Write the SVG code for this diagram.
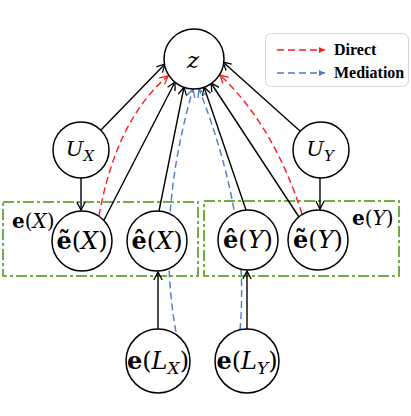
<svg xmlns="http://www.w3.org/2000/svg" width="411" height="416" viewBox="0 0 411 416">
<style>
.node{fill:#fff;stroke:#000;stroke-width:1.5}
.blk{fill:none;stroke:#000;stroke-width:1.4;marker-end:url(#ab)}
.red{fill:none;stroke:#ff1a1a;stroke-width:1.4;stroke-dasharray:7 4;marker-end:url(#ar)}
.blu{fill:none;stroke:#4a7bd0;stroke-width:1.4;stroke-dasharray:7 4;marker-end:url(#au)}
.box{fill:none;stroke:#70ad47;stroke-width:2;stroke-dasharray:11 3 3 3}
.m{font-family:"DejaVu Serif","Liberation Serif",serif;fill:#000}
.b{font-weight:bold}
.i{font-style:italic}
.leg{font-family:"Liberation Serif","Times New Roman",serif;font-weight:bold;font-size:16px;fill:#000}
</style>
<defs>
<marker id="ab" markerWidth="12" markerHeight="12" refX="10" refY="6" orient="auto" markerUnits="userSpaceOnUse"><path d="M2,1.8 L10,6 L2,10.2" fill="none" stroke="#000" stroke-width="1.3"/></marker>
<marker id="ar" markerWidth="12" markerHeight="12" refX="10" refY="6" orient="auto" markerUnits="userSpaceOnUse"><path d="M2,1.8 L10,6 L2,10.2" fill="none" stroke="#ff1a1a" stroke-width="1.3"/></marker>
<marker id="au" markerWidth="12" markerHeight="12" refX="10" refY="6" orient="auto" markerUnits="userSpaceOnUse"><path d="M2,1.8 L10,6 L2,10.2" fill="none" stroke="#4a7bd0" stroke-width="1.3"/></marker>
<marker id="lr" markerWidth="8" markerHeight="8" refX="6" refY="3" orient="auto" markerUnits="userSpaceOnUse"><path d="M0,0 L6,3 L0,6 z" fill="#ff1a1a"/></marker>
<marker id="lu" markerWidth="8" markerHeight="8" refX="6" refY="3" orient="auto" markerUnits="userSpaceOnUse"><path d="M0,0 L6,3 L0,6 z" fill="#4a7bd0"/></marker>
</defs>

<g id="groups">
<rect class="box" x="3" y="202" width="195" height="74"/>
<rect class="box" x="204" y="201" width="195" height="75"/>
<text class="m" x="12" y="228" font-size="20"><tspan class="b">e</tspan>(<tspan class="i">X</tspan>)</text>
<text class="m" x="352" y="225" font-size="20"><tspan class="b">e</tspan>(<tspan class="i">Y</tspan>)</text>
</g>

<g id="connectors">
<line class="blk" x1="81" y1="178" x2="81" y2="210"/>
<line class="blk" x1="320" y1="178" x2="320" y2="209"/>
<line class="blk" x1="158" y1="329" x2="158" y2="272"/>
<line class="blk" x1="247" y1="329" x2="247" y2="271"/>
<line class="blk" x1="101" y1="130" x2="165" y2="64"/>
<line class="blk" x1="104" y1="220" x2="175" y2="82"/>
<line class="blk" x1="159" y1="211" x2="184" y2="87"/>
<line class="blk" x1="246" y1="210" x2="204" y2="87"/>
<line class="blk" x1="299" y1="217" x2="211" y2="83"/>
<line class="blk" x1="300" y1="131" x2="223" y2="62"/>
<path class="red" d="M99,216 Q116,120 168,76"/>
<path class="red" d="M302,214 Q274,126 220,75"/>
<path class="blu" d="M176,332 Q155.5,219 193,89"/>
<path class="blu" d="M240,330 Q250,219 199,89"/>
</g>

<g id="node-z"><circle class="node" cx="194" cy="59" r="30"/><text class="m i" x="193" y="68" font-size="23" text-anchor="middle">z</text></g>
<g id="node-ux"><circle class="node" cx="81" cy="150" r="28"/><text class="m" x="80" y="156" font-size="21" text-anchor="middle"><tspan class="i">U</tspan><tspan class="i" font-size="15" dy="5">X</tspan></text></g>
<g id="node-uy"><circle class="node" cx="321" cy="150" r="28"/><text class="m" x="320" y="156" font-size="21" text-anchor="middle"><tspan class="i">U</tspan><tspan class="i" font-size="15" dy="5">Y</tspan></text></g>
<g id="node-tx"><circle class="node" cx="82" cy="241" r="30"/><text class="m" x="82" y="249" font-size="24" text-anchor="middle"><tspan class="b">ẽ</tspan>(<tspan class="i">X</tspan>)</text></g>
<g id="node-hx"><circle class="node" cx="157" cy="241" r="30"/><text class="m" x="157" y="249" font-size="24" text-anchor="middle"><tspan class="b">ê</tspan>(<tspan class="i">X</tspan>)</text></g>
<g id="node-hy"><circle class="node" cx="248" cy="240" r="30"/><text class="m" x="248" y="248" font-size="24" text-anchor="middle"><tspan class="b">ê</tspan>(<tspan class="i">Y</tspan>)</text></g>
<g id="node-ty"><circle class="node" cx="318" cy="240" r="30"/><text class="m" x="318" y="248" font-size="24" text-anchor="middle"><tspan class="b">ẽ</tspan>(<tspan class="i">Y</tspan>)</text></g>
<g id="node-lx"><circle class="node" cx="158" cy="361" r="32"/><text class="m" x="158" y="369" font-size="24" text-anchor="middle"><tspan class="b">e</tspan>(<tspan class="i">L</tspan><tspan class="i" font-size="17" dy="5">X</tspan><tspan dy="-5">)</tspan></text></g>
<g id="node-ly"><circle class="node" cx="247" cy="361" r="32"/><text class="m" x="247" y="369" font-size="24" text-anchor="middle"><tspan class="b">e</tspan>(<tspan class="i">L</tspan><tspan class="i" font-size="17" dy="5">Y</tspan><tspan dy="-5">)</tspan></text></g>

<g id="legend">
<rect x="265.5" y="33.5" width="143" height="53" rx="6" fill="#fff" stroke="#d4d4d4" stroke-width="1"/>
<line x1="277" y1="50" x2="325" y2="50" stroke="#ff1a1a" stroke-width="1.4" stroke-dasharray="7 4" marker-end="url(#lr)"/>
<line x1="277" y1="73" x2="325" y2="73" stroke="#4a7bd0" stroke-width="1.4" stroke-dasharray="7 4" marker-end="url(#lu)"/>
<text class="leg" x="334" y="55">Direct</text>
<text class="leg" x="334" y="78">Mediation</text>
</g>
</svg>
